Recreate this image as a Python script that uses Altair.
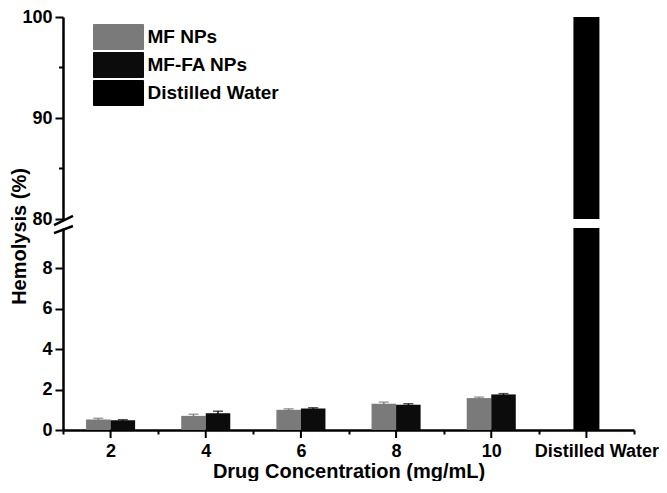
import altair as alt
import pandas as pd

# ---- data ----
categories = ["2", "4", "6", "8", "10", "Distilled Water"]
conc = ["2", "4", "6", "8", "10"]
mf_vals = [0.52, 0.70, 1.00, 1.30, 1.58]
mf_err = [0.06, 0.08, 0.05, 0.08, 0.05]
mffa_vals = [0.48, 0.83, 1.06, 1.25, 1.76]
mffa_err = [0.03, 0.10, 0.04, 0.05, 0.04]
water_cat = ["Distilled Water"]
water_val = [100.0]
series = ["MF NPs", "MF-FA NPs", "Distilled Water"]
colors = ["#7a7a7a", "#0c0c0c", "#000000"]
upper_ticks = [80, 90, 100]
upper_minor = [85, 95]
lower_ticks = [0, 2, 4, 6, 8]

FONT = "Liberation Sans"

rows = []
for c, v, e in zip(conc, mf_vals, mf_err):
    rows.append({"category": c, "series": "MF NPs", "value": v, "hi": v + e, "lo": v - e})
for c, v, e in zip(conc, mffa_vals, mffa_err):
    rows.append({"category": c, "series": "MF-FA NPs", "value": v, "hi": v + e, "lo": v - e})
np_df = pd.DataFrame(rows)
water_df = pd.DataFrame({"category": water_cat, "series": ["Distilled Water"], "value": water_val})
umin_df = pd.DataFrame({"m": upper_minor})

legend_obj = alt.Legend(
    title=None, orient="none", legendX=42.5, legendY=7,
    symbolType="M-2,-1H2V1H-2Z", symbolSize=625,
    symbolStrokeColor="#c8c8c8", symbolStrokeWidth=1, symbolOpacity=1,
    labelFont=FONT, labelFontWeight="bold", labelFontSize=19, labelColor="black",
    labelOffset=16, rowPadding=-2, padding=0,
)
color_enc = alt.Color("series:N", scale=alt.Scale(domain=series, range=colors), legend=legend_obj)

x_scale = alt.Scale(domain=categories, paddingInner=0, paddingOuter=0)
off_scale = alt.Scale(domain=["MF NPs", "MF-FA NPs"], paddingInner=0, paddingOuter=0.94)

W = 571
H = 202

# ---------- upper panel (80-100) ----------
y_up = alt.Y("value:Q", scale=alt.Scale(domain=[80, 100], nice=False, zero=False),
             axis=alt.Axis(values=upper_ticks, title=None, grid=False, tickSize=8, tickWidth=2,
                           domainWidth=2.5, domainColor="black", tickColor="black",
                           labelFont=FONT, labelFontWeight="bold", labelFontSize=18,
                           labelColor="black", labelPadding=3))

up_bar = alt.Chart(water_df).mark_bar(size=26, clip=True).encode(
    x=alt.X("category:N", scale=x_scale, axis=None),
    y=y_up,
    color=color_enc,
)
up_minor = alt.Chart(umin_df).mark_rule(color="black", strokeWidth=2).encode(
    y=alt.Y("m:Q"), x=alt.value(-4), x2=alt.value(0)
)
up_break = alt.Chart(pd.DataFrame({"a": [79.4], "b": [80.3]})).mark_rule(color="black", strokeWidth=2.5).encode(
    y=alt.Y("a:Q"), y2="b:Q", x=alt.value(-9), x2=alt.value(10)
)
upper = alt.layer(up_bar, up_minor, up_break).properties(width=W, height=H)

# ---------- lower panel (0-10) ----------
y_low_axis = alt.Axis(values=lower_ticks, title="Hemolysis (%)", grid=False, tickSize=8, tickWidth=2,
                      domainWidth=2.5, domainColor="black", tickColor="black",
                      labelFont=FONT, labelFontWeight="bold", labelFontSize=18,
                      labelColor="black", labelPadding=3,
                      titleFont=FONT, titleFontWeight="bold", titleFontSize=20, titleColor="black",
                      titleAngle=270, titleAlign="center", titleBaseline="alphabetic",
                      titleX=-38, titleY=8)
y_low_scale = alt.Scale(domain=[0, 10], nice=False)

x_low = alt.X("category:N", scale=x_scale,
              axis=alt.Axis(title="Drug Concentration (mg/mL)", labelAngle=0, tickBand="extent",
                            tickSize=4, tickWidth=2, domainWidth=2.5, domainColor="black",
                            tickColor="black", labelFont=FONT, labelFontWeight="bold",
                            labelFontSize=18, labelColor="black", labelPadding=8,
                            labelOffset={"condition": {"test": "datum.value == 'Distilled Water'", "value": 10}, "value": 0},
                            titleFont=FONT, titleFontWeight="bold", titleFontSize=20,
                            titleColor="black", titlePadding=1))

err_rule = alt.Chart(np_df).mark_rule(strokeWidth=1.5).encode(
    x=x_low, xOffset=alt.XOffset("series:N", scale=off_scale),
    y=alt.Y("lo:Q", scale=y_low_scale, axis=y_low_axis), y2="hi:Q", color=color_enc,
)
err_cap = alt.Chart(np_df).mark_tick(size=10, thickness=1.5).encode(
    x=x_low, xOffset=alt.XOffset("series:N", scale=off_scale),
    y=alt.Y("hi:Q"), color=color_enc,
)
bars = alt.Chart(np_df).mark_bar().encode(
    x=x_low, xOffset=alt.XOffset("series:N", scale=off_scale),
    y=alt.Y("value:Q"), color=color_enc,
)
water_low = alt.Chart(water_df).mark_bar(size=26, clip=True).encode(
    x=x_low, y=alt.Y("value:Q"), color=color_enc,
)
center_ticks = alt.Chart(pd.DataFrame({"category": categories})).mark_rule(color="black", strokeWidth=2).encode(
    x=x_low, y=alt.value(H), y2=alt.value(H + 8)
)
low_break = alt.Chart(pd.DataFrame({"a": [9.75], "b": [10.1]})).mark_rule(color="black", strokeWidth=2.5).encode(
    y=alt.Y("a:Q"), y2="b:Q", x=alt.value(-9), x2=alt.value(10)
)
lower = alt.layer(err_rule, err_cap, bars, water_low, center_ticks, low_break).properties(width=W, height=H)

chart = alt.vconcat(upper, lower, spacing=9, bounds="flush").resolve_scale(color="shared").properties(
    padding={"left": 0, "top": 0, "right": 0, "bottom": 0},
).configure(background="white").configure_view(stroke=None)

chart.save("out.html", embed_options={"renderer": "svg", "actions": False})
